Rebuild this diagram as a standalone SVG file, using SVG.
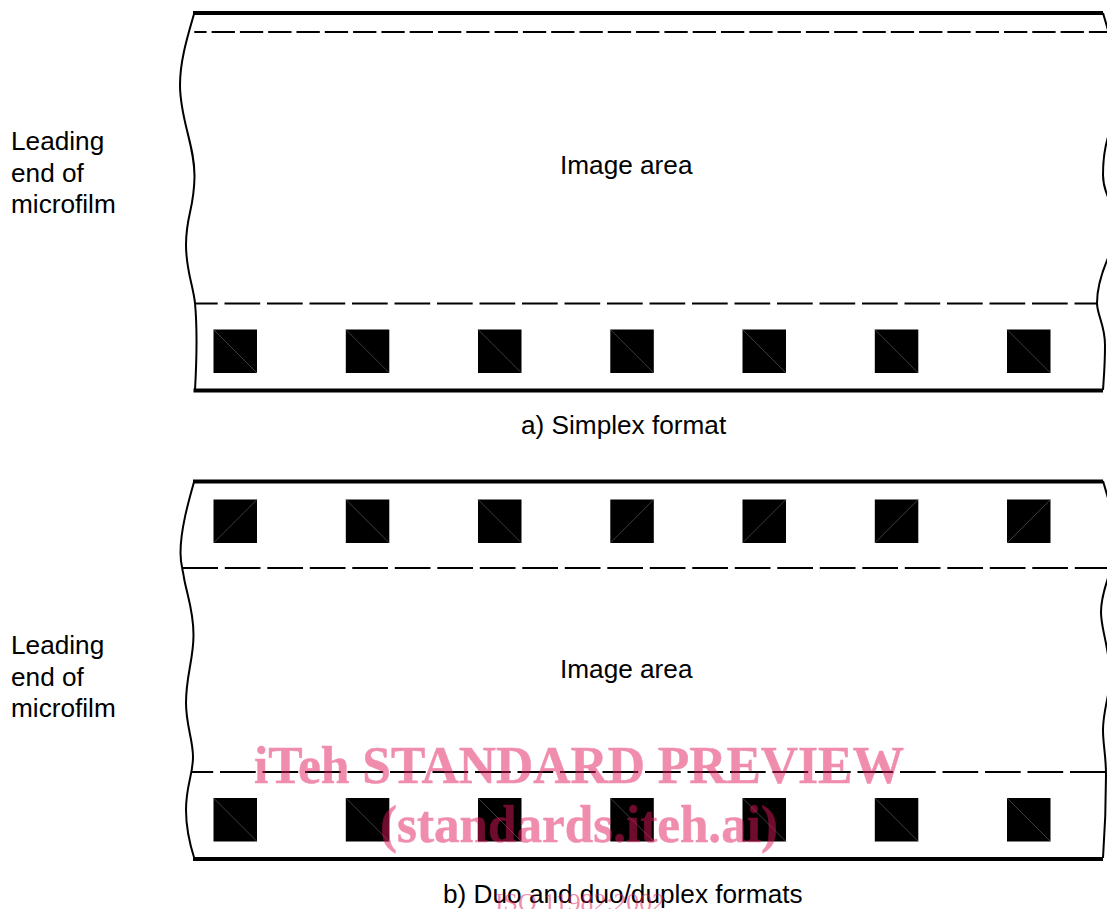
<svg xmlns="http://www.w3.org/2000/svg" width="1107" height="909" viewBox="0 0 1107 909">
<style>
.t{font-family:"Liberation Sans",Arial,sans-serif;font-size:26.200px;fill:#000}
.edge{fill:none;stroke:#000;stroke-width:2}
.thick{fill:none;stroke:#000;stroke-width:3.800}
.d{fill:none;stroke:#000;stroke-width:2}
.hole{fill:#000}
.diag{stroke:#666;stroke-width:.6;fill:none}
.wm{font-family:"Liberation Serif","Times New Roman",serif;fill:#e2185a;opacity:.49}
.wb{font-size:53px;font-weight:700;stroke:#e2185a;stroke-width:.5}
</style>
<defs>
<g id="h1"><rect class="hole" x="0" y="0" width="43.5" height="43.5"/><path class="diag" d="M0 0L43.5 43.5"/></g>
<g id="h2"><rect class="hole" x="0" y="0" width="43.5" height="43.5"/><path class="diag" d="M0 43.5L43.5 0"/></g>
</defs>
<g id="film-a">
<path class="thick" d="M193 13H1103M193.500 390.500H1103"/>
<path class="edge" d="M194.300 13C188 35 180 60 180 85C180 120 195 145 194.500 177C194 210 186 215 186 245C186 270 193 285 195 303C197 325 197 355 195 390"/>
<path class="edge" d="M1103 13L1108 30M1108 137C1104 150 1103 160 1103 175C1103 183 1105 190 1108 197M1108 258C1102 272 1097 288 1097 303C1097 315 1105 325 1105 345C1105 365 1104 375 1103 390"/>
<path class="d" d="M194.300 32H1107" stroke-dasharray="23.300 5" stroke-dashoffset="11"/>
<path class="d" d="M195 303.500H1097" stroke-dasharray="35.700 6.800" stroke-dashoffset="13"/>
<use href="#h1" x="213.500" y="329.500"/><use href="#h1" x="345.800" y="329.500"/><use href="#h1" x="478" y="329.500"/><use href="#h1" x="610.300" y="329.500"/><use href="#h1" x="742.500" y="329.500"/><use href="#h1" x="874.800" y="329.500"/><use href="#h1" x="1007" y="329.500"/>
</g>
<g id="film-b">
<path class="thick" d="M193 481.500H1103M193 859H1103"/>
<path class="edge" d="M194.300 481C188 503 180.500 530 180.500 553C180.500 565 183 570 184 578C187 595 193.500 610 193.500 635C193.500 660 186 675 186 703C186 725 193 740 193 757C193 775 186 785 186 810C186 830 190 845 194.500 859"/>
<path class="edge" d="M1103 481L1108 498M1108 578C1104 590 1101 600 1101 612C1101 625 1105 635 1108 655M1108 695C1105 710 1103 718 1103 730C1103 745 1106 755 1106 775C1106 800 1105 830 1103 858"/>
<path class="d" d="M182.300 568H1107" stroke-dasharray="35.700 6.800"/>
<path class="d" d="M192 772H1107" stroke-dasharray="35.700 6.800" stroke-dashoffset="14.500"/>
<use href="#h2" x="213.500" y="499.500"/><use href="#h1" x="345.800" y="499.500"/><use href="#h1" x="478" y="499.500"/><use href="#h2" x="610.300" y="499.500"/><use href="#h2" x="742.500" y="499.500"/><use href="#h2" x="874.800" y="499.500"/><use href="#h2" x="1007" y="499.500"/>
<use href="#h1" x="213.500" y="798"/><use href="#h1" x="345.800" y="798"/><use href="#h1" x="478" y="798"/><use href="#h1" x="610.300" y="798"/><use href="#h1" x="742.500" y="798"/><use href="#h1" x="874.800" y="798"/><use href="#h1" x="1007" y="798"/>
</g>
<g id="labels">
<text class="t" x="11" y="149.700">Leading</text><text class="t" x="11" y="181.700">end of</text><text class="t" x="11" y="212.700">microfilm</text>
<text class="t" x="560" y="173.700">Image area</text>
<text class="t" x="521" y="434">a) Simplex format</text>
<text class="t" x="11" y="653.700">Leading</text><text class="t" x="11" y="685.700">end of</text><text class="t" x="11" y="716.700">microfilm</text>
<text class="t" x="560" y="677.700">Image area</text>
<text class="t" x="443" y="902.500">b) Duo and duo/duplex formats</text>
</g>
<g id="watermark">
<text class="wm wb" x="254" y="782.500" textLength="650" lengthAdjust="spacingAndGlyphs">iTeh STANDARD PREVIEW</text>
<text class="wm wb" x="380" y="841.500" textLength="398" lengthAdjust="spacingAndGlyphs">(standards.iteh.ai)</text>
<text class="wm" x="495" y="911" font-size="26" textLength="170" lengthAdjust="spacingAndGlyphs">ISO 11982:2002</text>
</g>
</svg>
